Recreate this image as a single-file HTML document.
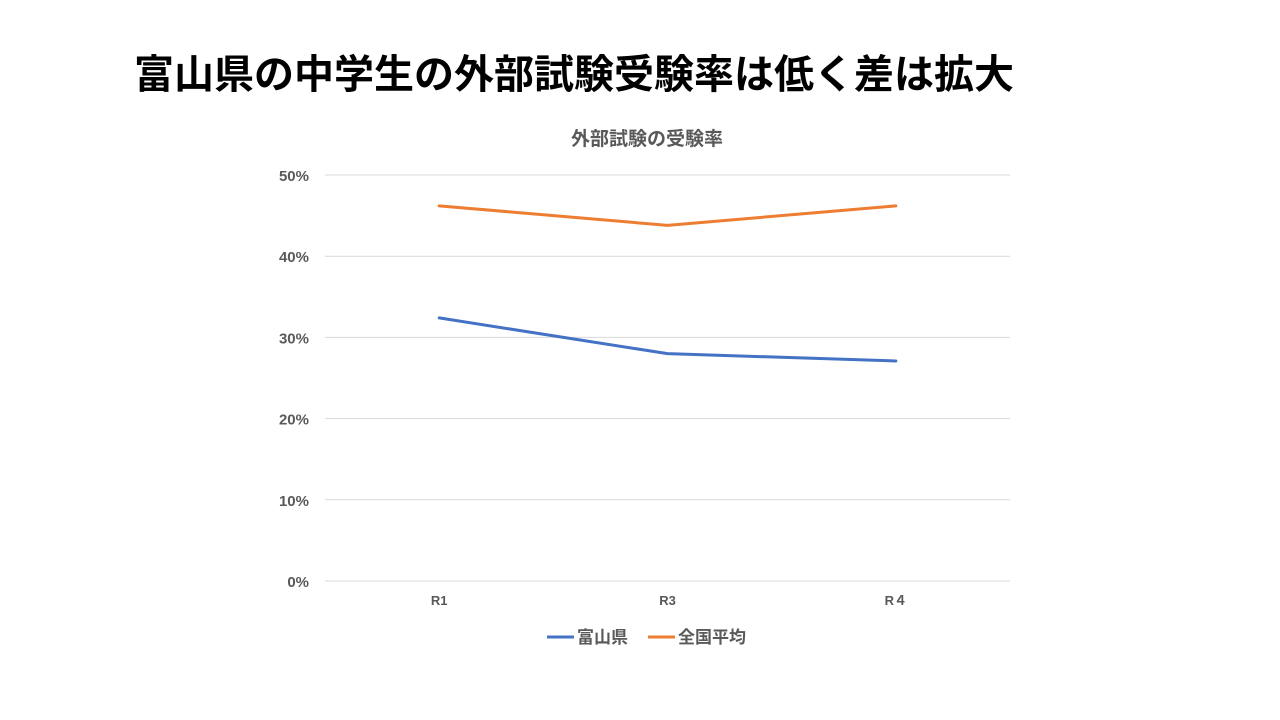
<!DOCTYPE html>
<html><head><meta charset="utf-8"><style>
body{margin:0;width:1280px;height:720px;background:#fff;overflow:hidden;font-family:"Liberation Sans","Noto Sans CJK JP",sans-serif;}
#title{position:absolute;left:134px;top:42px;font-size:40px;font-weight:bold;color:#000;letter-spacing:0px;white-space:nowrap;}
svg{position:absolute;left:0;top:0;}
svg text{font-family:"Liberation Sans","Noto Sans CJK JP",sans-serif;font-weight:bold;fill:#595959;}
</style></head><body>
<div id="title">富山県の中学生の外部試験受験率は低く差は拡大</div>
<svg id="chart" width="1280" height="720"></svg>
<script>
const categories=["R1","R3","R４"];
const toyama=[32.4,28.0,27.1];
const national=[46.2,43.8,46.2];
const yTicks=[0,10,20,30,40,50];
const seriesNames=["富山県","全国平均"];
const colors=["#4472C4","#ED7D31"];
const svg=document.getElementById('chart');
const NS="http://www.w3.org/2000/svg";
const L=325,R=1010,T=175,B=581,yMax=50;
const y=v=>B-(v/yMax)*(B-T);
const x=i=>L+(i+0.5)*(R-L)/categories.length;
function mk(tag,attrs,txt){const e=document.createElementNS(NS,tag);for(const k in attrs)e.setAttribute(k,attrs[k]);if(txt!=null)e.textContent=txt;svg.appendChild(e);return e;}
let t=mk('text',{x:647,y:145,'text-anchor':'middle','font-size':19},'外部試験の受験率');


yTicks.forEach(v=>{
 const g=mk('line',{x1:L,x2:R,y1:y(v),y2:y(v),stroke:'#d9d9d9','stroke-width':1});
 
 
 const lb=mk('text',{x:309,y:y(v)+6,'text-anchor':'end','font-size':15},v+'%');
 
 
});
categories.forEach((c,i)=>{
 const lb=mk('text',{x:x(i),y:605,'text-anchor':'middle','font-size':13},c);
 
 
});
[toyama,national].forEach((s,si)=>{
 const p=mk('polyline',{points:s.map((v,i)=>x(i)+','+y(v)).join(' '),fill:'none',stroke:colors[si],'stroke-width':3,'stroke-linejoin':'round','stroke-linecap':'round'});
 
 
});
const lx=[547,648];
seriesNames.forEach((n,i)=>{
 const l=mk('line',{x1:lx[i],x2:lx[i]+27,y1:637,y2:637,stroke:colors[i],'stroke-width':3});
 
 
 const tx=mk('text',{x:lx[i]+30,y:643,'font-size':17},n);
 
 
});
</script>
</body></html>
